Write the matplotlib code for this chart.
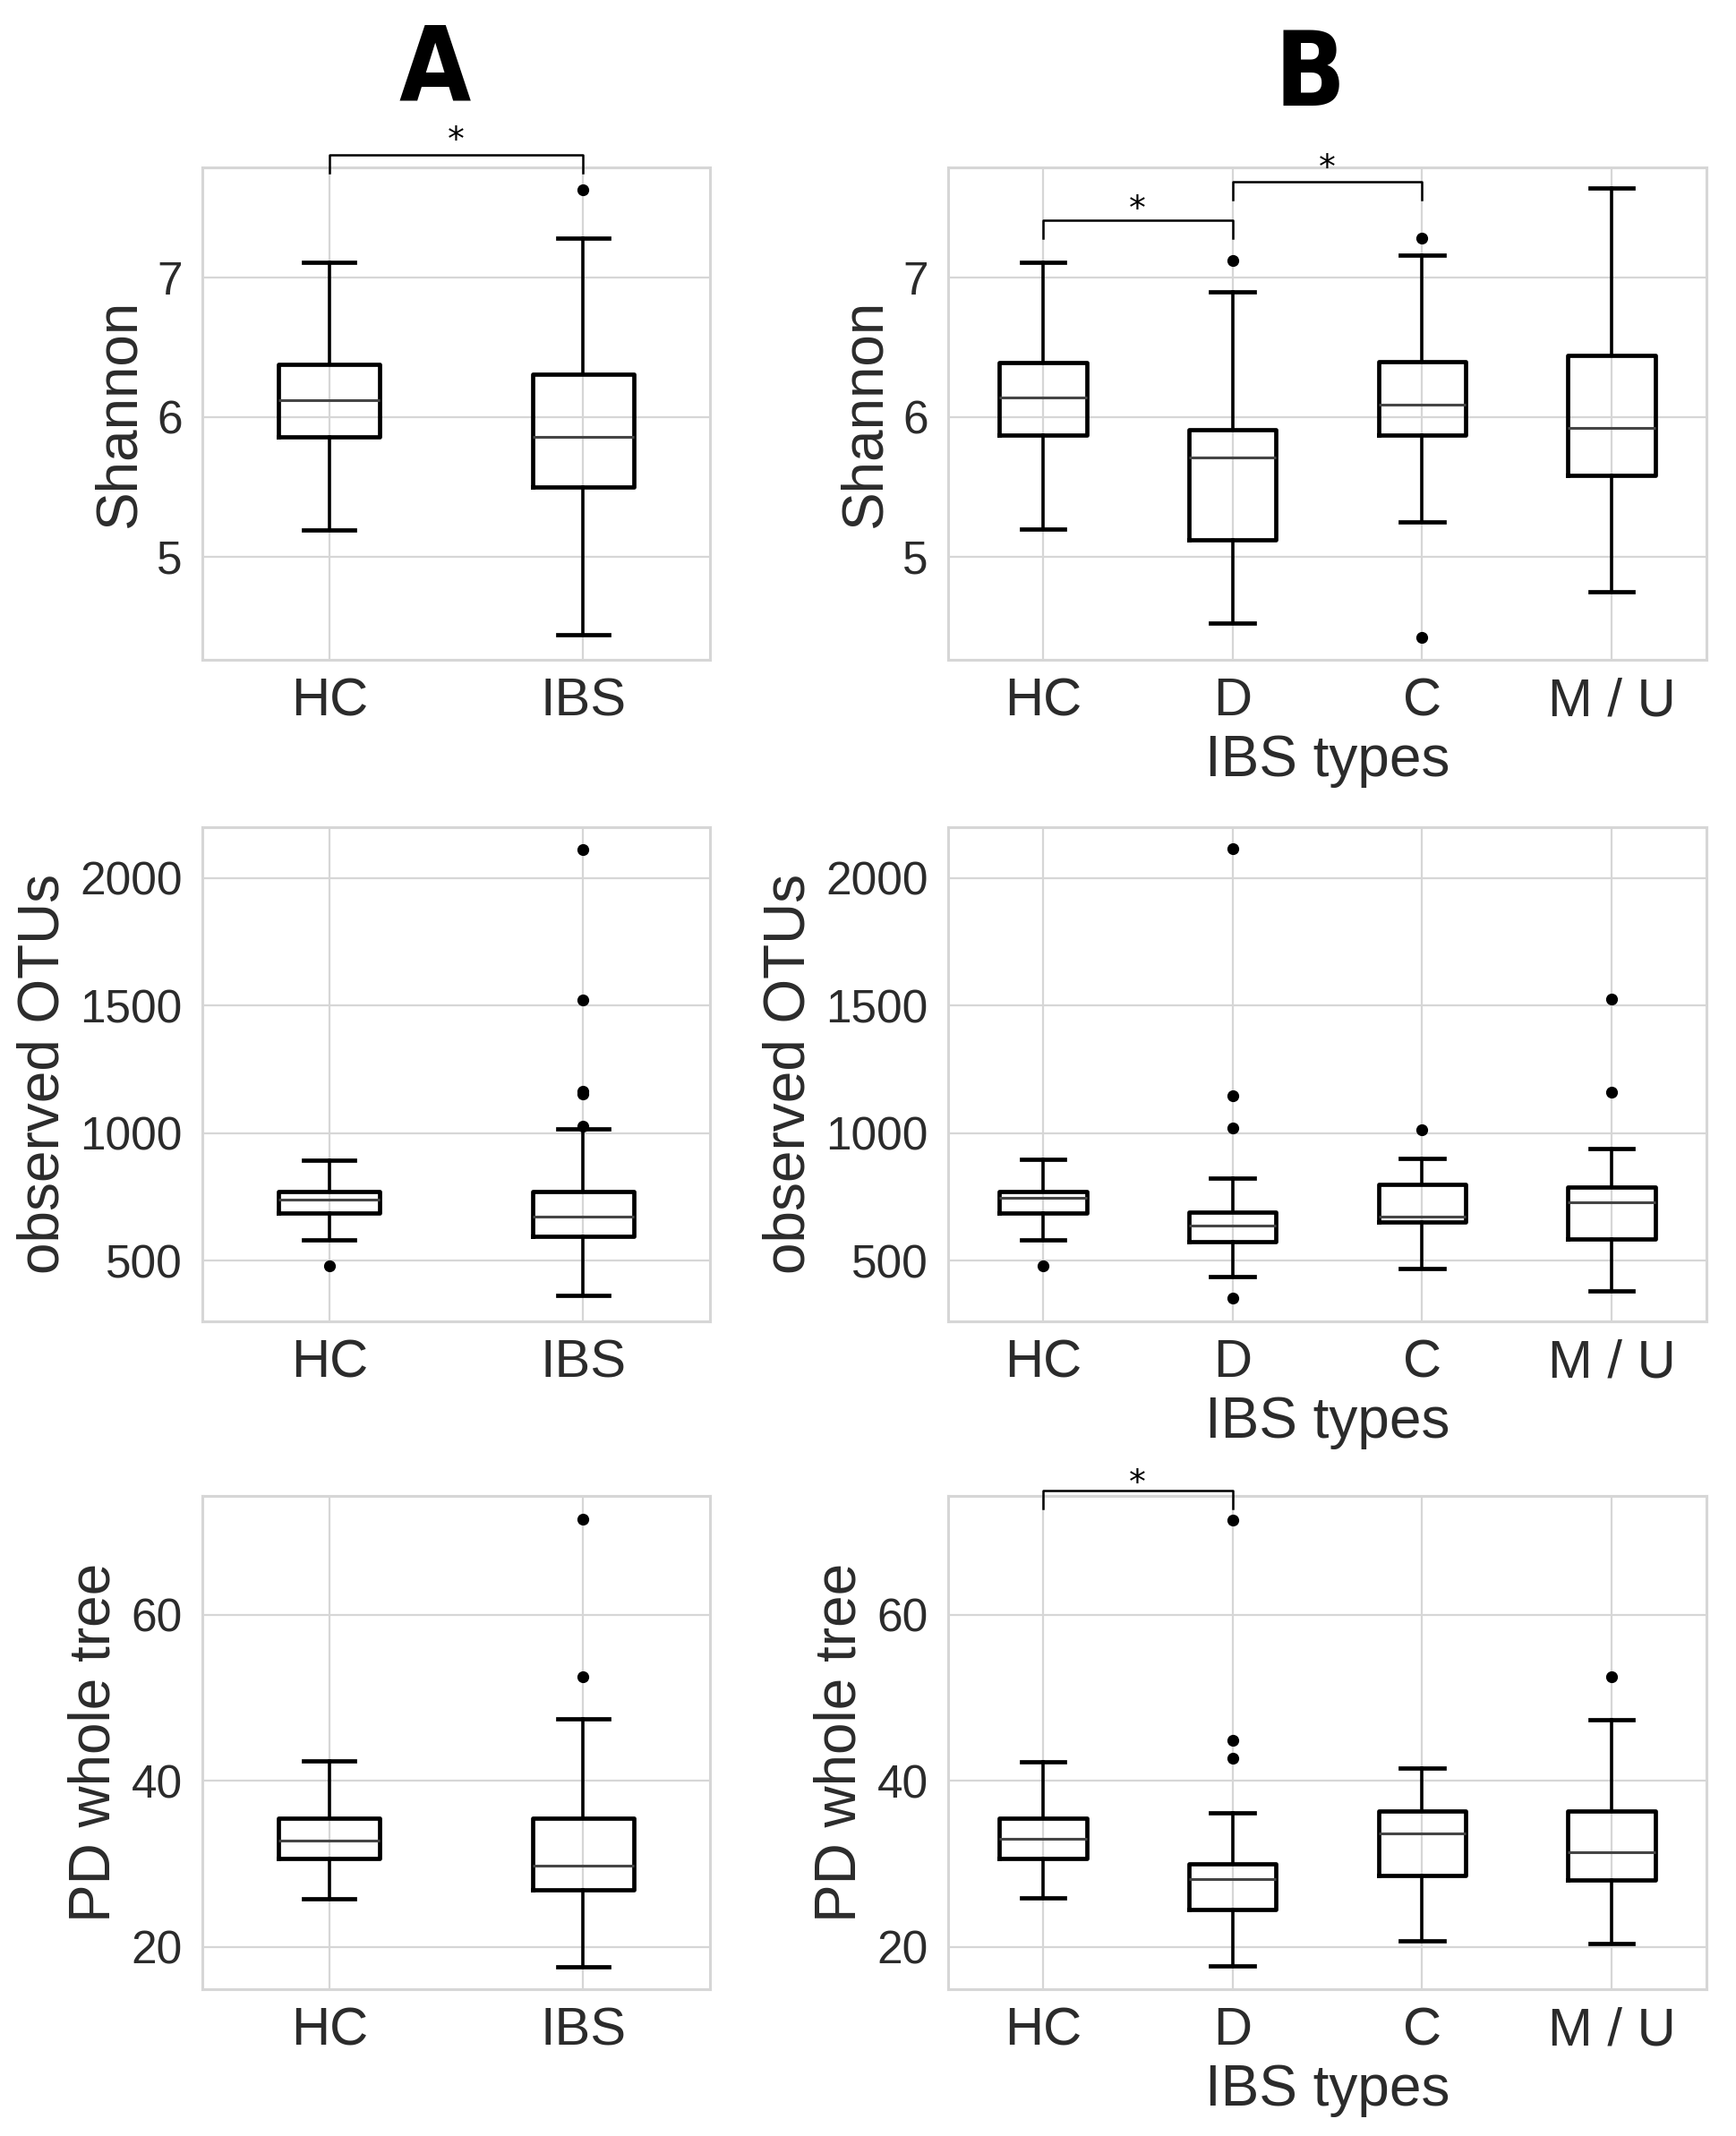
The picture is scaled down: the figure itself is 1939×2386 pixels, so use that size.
import matplotlib
matplotlib.use("Agg")
import matplotlib.pyplot as plt
from matplotlib.transforms import offset_copy

plt.rcParams['font.family'] = ['Liberation Sans', 'DejaVu Sans']

# ---- data (whislo, q1, median, q3, whishi, outliers) ----
groups_a = ["HC", "IBS"]
groups_b = ["HC", "D", "C", "M / U"]

shannon_a = [
    [5.19, 5.86, 6.12, 6.38, 7.11, []],
    [4.44, 5.50, 5.86, 6.31, 7.28, [7.63]],
]
shannon_b = [
    [5.20, 5.87, 6.14, 6.39, 7.11, []],
    [4.52, 5.12, 5.71, 5.91, 6.90, [7.12]],
    [5.25, 5.87, 6.09, 6.40, 7.16, [7.28, 4.42]],
    [4.75, 5.58, 5.92, 6.44, 7.64, []],
]

otus_a = [
    [583, 687, 740, 770, 895, [481]],
    [364, 595, 672, 770, 1016, [2113, 1524, 1154, 1165, 1028]],
]
otus_b = [
    [582, 688, 745, 772, 898, [480]],
    [437, 574, 639, 692, 823, [2114, 1147, 1019, 355]],
    [468, 651, 673, 799, 901, [1014]],
    [381, 584, 729, 789, 940, [1526, 1162]],
]

pd_a = [
    [25.8, 30.6, 32.8, 35.5, 42.4, []],
    [17.6, 26.9, 29.8, 35.5, 47.5, [71.5, 52.5]],
]
pd_b = [
    [25.9, 30.6, 33.0, 35.5, 42.3, []],
    [17.7, 24.5, 28.2, 30.0, 36.1, [71.4, 44.9, 42.7]],
    [20.7, 28.6, 33.7, 36.4, 41.5, []],
    [20.4, 28.1, 31.4, 36.4, 47.4, [52.5]],
]

ylabels = ["Shannon", "observed OTUs", "PD whole tree"]
ylims = [(4.26, 7.79), (262, 2200), (14.9, 74.3)]
yticks = [[5, 6, 7], [500, 1000, 1500, 2000], [20, 40, 60]]

# significance brackets: (row, col, i, j, line y, leg y, star y)
brackets = [
    (0, 0, 0, 1, 7.88, 7.75, 8.02),
    (0, 1, 0, 1, 7.41, 7.28, 7.53),
    (0, 1, 1, 2, 7.69, 7.56, 7.82),
    (2, 1, 0, 1, 74.9, 72.8, 76.5),
]

W, H = 1939, 2386
fig = plt.figure(figsize=(W / 100, H / 100), dpi=100)

col_x = [(226, 567), (1059, 847)]
row_y = [(187, 737), (924, 1476), (1671, 2222)]

grid_c = '#d6d6d6'
text_c = '#2b2b2b'

data = [[shannon_a, shannon_b], [otus_a, otus_b], [pd_a, pd_b]]
names = [groups_a, groups_b]
widths = [0.40, 0.46]

axes = {}
for r in range(3):
    for c in range(2):
        x0, w = col_x[c]
        top, bot = row_y[r]
        ax = fig.add_axes([x0 / W, 1 - bot / H, w / W, (bot - top) / H])
        axes[(r, c)] = ax
        stats = []
        for lab, s in zip(names[c], data[r][c]):
            stats.append(dict(label=lab, whislo=s[0], q1=s[1], med=s[2],
                              q3=s[3], whishi=s[4], fliers=s[5]))
        ax.bxp(stats, positions=range(len(stats)), widths=widths[c],
               boxprops=dict(color='black', linewidth=3.4),
               whiskerprops=dict(color='black', linewidth=2.6),
               capprops=dict(color='black', linewidth=3.4),
               medianprops=dict(color='#454545', linewidth=2.2),
               flierprops=dict(marker='o', markerfacecolor='black',
                               markeredgecolor='black', markersize=8.5),
               zorder=3)
        ax.set_xlim(-0.5, len(stats) - 0.5)
        ax.set_ylim(*ylims[r])
        ax.set_yticks(yticks[r])
        ax.grid(True, color=grid_c, linewidth=1.6, zorder=0)
        ax.set_axisbelow(True)
        for sp in ax.spines.values():
            sp.set_color(grid_c)
            sp.set_linewidth(2.2)
        ax.tick_params(axis='x', length=0, pad=14, labelsize=43, labelcolor=text_c)
        ax.tick_params(axis='y', length=0, pad=16, labelsize=37, labelcolor=text_c)
        ax.set_ylabel(ylabels[r], fontsize=46, color=text_c, labelpad=8)
        if c == 1:
            ax.set_xlabel("IBS types", fontsize=46, color=text_c, labelpad=6)

for r, c, i, j, yl, yleg, ys in brackets:
    ax = axes[(r, c)]
    ax.plot([i, i, j, j], [yleg, yl, yl, yleg], color='black', linewidth=1.8,
            clip_on=False, zorder=5)
    # the asterisk glyph sits high in its box, so push the box down a little
    star_tr = offset_copy(ax.transData, fig=fig, y=-7, units='dots')
    ax.text((i + j) / 2, ys, "*", ha='center', va='center', fontsize=27,
            family=['DejaVu Sans'], color='black', transform=star_tr)

fig.text(486 / W, 1 - 111 / H, "A", ha='center', va='baseline', fontsize=83,
         fontweight='bold', fontstretch='condensed', family=['DejaVu Sans'])
fig.text(1463 / W, 1 - 118 / H, "B", ha='center', va='baseline', fontsize=83,
         fontweight='bold', fontstretch='condensed', family=['DejaVu Sans'])

fig.savefig("out.png", dpi=100, facecolor='white')
